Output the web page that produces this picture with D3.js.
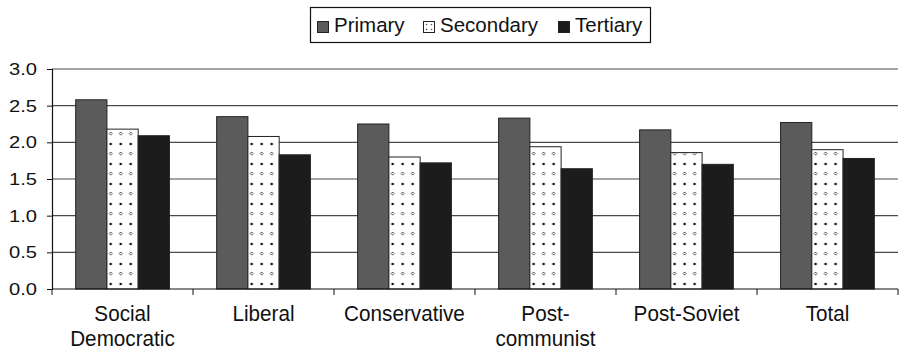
<!DOCTYPE html>
<html>
<head>
<meta charset="utf-8">
<script src="https://cdn.jsdelivr.net/npm/d3@7/dist/d3.min.js"></script>
<style>
  html, body { margin: 0; padding: 0; background: #fff; }
  svg { display: block; font-family: "Liberation Sans", Arial, sans-serif; }
</style>
</head>
<body>
<svg id="chart" width="902" height="351"></svg>
<script>
const categories = [["Social", "Democratic"], ["Liberal"], ["Conservative"], ["Post-", "communist"], ["Post-Soviet"], ["Total"]];
const seriesNames = ["Primary", "Secondary", "Tertiary"];
const primary   = [2.58, 2.35, 2.25, 2.33, 2.17, 2.27];
const secondary = [2.18, 2.08, 1.80, 1.94, 1.86, 1.90];
const tertiary  = [2.09, 1.83, 1.72, 1.64, 1.70, 1.78];
const yTicks = [0, 0.5, 1.0, 1.5, 2.0, 2.5, 3.0];

const seriesValues = [primary, secondary, tertiary];
const fills = ["#5b5b5b", "url(#dots)", "#1c1c1c"];

const svg = d3.select("#chart");
const margin = { left: 52, right: 4, top: 69, bottom: 62 };
const W = 902, H = 351;

// dotted fill used for the middle series
const defs = svg.append("defs");
const pat = defs.append("pattern").attr("id", "dots")
  .attr("patternUnits", "userSpaceOnUse")
  .attr("width", 10).attr("height", 20).attr("x", 3).attr("y", 0);
pat.append("rect").attr("width", 10).attr("height", 20).attr("fill", "#fff");
pat.append("circle").attr("cx", 2).attr("cy", 4).attr("r", 1.3).attr("fill", "#111");
pat.append("path").attr("d", "M2,12 l1.6,1.6 l-1.6,1.6 l-1.6,-1.6 z")
  .attr("fill", "#fff").attr("stroke", "#333").attr("stroke-width", 0.8);

const x0 = d3.scaleBand()
  .domain(d3.range(categories.length))
  .range([margin.left, W - margin.right])
  .paddingInner(0.335).paddingOuter(0.168);
const x1 = d3.scaleBand().domain(d3.range(seriesNames.length)).range([0, x0.bandwidth()]);
const y = d3.scaleLinear().domain([0, 3]).range([H - margin.bottom, margin.top]);

// horizontal gridlines
svg.append("g").selectAll("line").data(yTicks.filter(d => d > 0)).join("line")
  .attr("x1", margin.left).attr("x2", W - margin.right)
  .attr("y1", d => y(d)).attr("y2", d => y(d))
  .attr("stroke", "#4a4a4a").attr("stroke-width", 1.2);

// bars
const groups = svg.append("g").selectAll("g").data(categories).join("g")
  .attr("transform", (d, i) => `translate(${x0(i)},0)`);
groups.selectAll("rect").data((d, i) => seriesValues.map((s, k) => ({ k, v: s[i] }))).join("rect")
  .attr("x", d => x1(d.k)).attr("width", x1.bandwidth())
  .attr("y", d => y(d.v)).attr("height", d => y(0) - y(d.v))
  .attr("fill", d => fills[d.k])
  .attr("stroke", "#222").attr("stroke-width", 1);

// y axis
const yAxis = svg.append("g").attr("transform", `translate(${margin.left},0)`)
  .call(d3.axisLeft(y).tickValues(yTicks).tickFormat(d3.format(".1f")).tickSize(5).tickPadding(10));
yAxis.select(".domain").attr("stroke", "#111").attr("stroke-width", 1.2);
yAxis.selectAll(".tick line").attr("stroke", "#111");
yAxis.selectAll("text").attr("font-size", 17).attr("fill", "#111")
  .attr("font-family", "'Liberation Sans', Arial, sans-serif")
  .attr("textLength", 28).attr("lengthAdjust", "spacingAndGlyphs");

// x axis line with ticks between categories
const step = (W - margin.right - margin.left) / categories.length;
svg.append("line").attr("x1", margin.left).attr("x2", W - margin.right)
  .attr("y1", y(0)).attr("y2", y(0)).attr("stroke", "#111").attr("stroke-width", 1.2);
svg.append("g").selectAll("line").data(d3.range(categories.length + 1)).join("line")
  .attr("x1", i => margin.left + i * step).attr("x2", i => margin.left + i * step)
  .attr("y1", y(0)).attr("y2", y(0) + 6).attr("stroke", "#111");

// category labels (slightly narrow, tall lettering)
svg.append("g").selectAll("g").data(categories).join("g")
  .attr("transform", (d, i) => `translate(${margin.left + (i + 0.5) * step},${y(0) + 32}) scale(0.92,1)`)
  .append("text")
  .attr("text-anchor", "middle").attr("font-size", 22.5).attr("fill", "#111")
  .selectAll("tspan").data(d => d).join("tspan")
  .attr("x", 0).attr("y", (t, j) => j * 25)
  .text(t => t);

// legend
const legend = svg.append("g");
legend.append("rect").attr("x", 310.5).attr("y", 7.5).attr("width", 340).attr("height", 35)
  .attr("fill", "#fff").attr("stroke", "#111").attr("stroke-width", 1.2);
const legendX = [317, 423, 558];
seriesNames.forEach((name, k) => {
  legend.append("rect").attr("x", legendX[k] + 0.5).attr("y", 21.5).attr("width", 11).attr("height", 11)
    .attr("fill", k === 1 ? "#fff" : fills[k]).attr("stroke", "#222").attr("stroke-width", 1);
  if (k === 1) {
    [[3, 3], [8, 3], [3, 8], [8, 8]].forEach(p =>
      legend.append("circle").attr("cx", legendX[k] + 0.5 + p[0]).attr("cy", 21.5 + p[1]).attr("r", 0.8).attr("fill", "#555"));
  }
  legend.append("text").attr("x", legendX[k] + 17).attr("y", 32)
    .attr("font-size", 20.5).attr("fill", "#111").text(name);
});
</script>
</body>
</html>
